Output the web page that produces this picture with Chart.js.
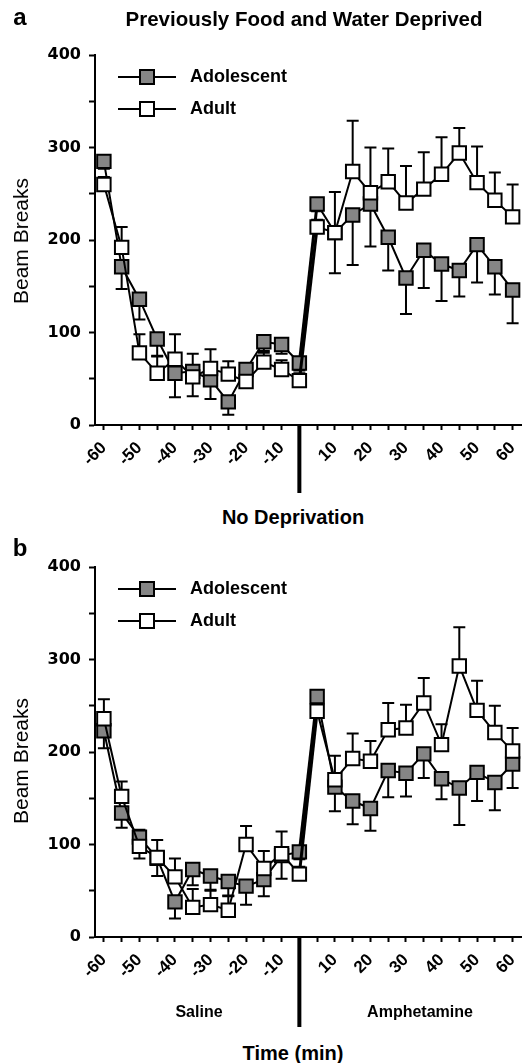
<!DOCTYPE html>
<html>
<head>
<meta charset="utf-8">
<script src="https://cdn.jsdelivr.net/npm/chart.js@4.4.1/dist/chart.umd.min.js"></script>
<style>
  body { margin: 0; background: #fff; width: 523px; height: 1063px; overflow: hidden; position: relative; color: #000; font-family: "Liberation Sans", Arial, sans-serif; }
  .panel { position: absolute; left: 0; }
  .txt { position: absolute; white-space: nowrap; transform: translate(-50%, -50%); }
  .bold { font-weight: bold; }
  .vert { transform: translate(-50%, -50%) rotate(-90deg); }
</style>
</head>
<body>

<div class="panel" style="top:0;"><canvas id="chartA" width="533" height="500"></canvas></div>
<div class="txt bold" style="left:20px;top:17px;font-size:24px;">a</div>
<div class="txt bold" style="left:304px;top:19px;font-size:20.5px;">Previously Food and Water Deprived</div>
<div class="txt vert" style="left:21px;top:241px;font-size:21px;">Beam Breaks</div>
<div class="txt bold" style="left:293px;top:517px;font-size:20px;">No Deprivation</div>

<div class="panel" style="top:540px;"><canvas id="chartB" width="533" height="500"></canvas></div>
<div class="txt bold" style="left:20px;top:548px;font-size:24px;">b</div>
<div class="txt vert" style="left:21px;top:761px;font-size:21px;">Beam Breaks</div>
<div class="txt bold" style="left:199px;top:1012px;font-size:16px;">Saline</div>
<div class="txt bold" style="left:420px;top:1012px;font-size:16px;">Amphetamine</div>
<div class="txt bold" style="left:293px;top:1053px;font-size:20px;">Time (min)</div>

<script>
// time bins (min), -5 and 5 sit either side of the treatment switch
const timeLabels = ['-60','-55','-50','-45','-40','-35','-30','-25','-20','-15','-10','-5',
                    '5','10','15','20','25','30','35','40','45','50','55','60'];

// panel a - previously food and water deprived
const adolescentA = [285, 171, 136, 93, 56, 58, 49, 25, 60, 90, 87, 67,
                     239, 208, 227, 239, 203, 159, 189, 174, 167, 195, 171, 146];
const adultA      = [260, 192, 78, 56, 71, 52, 61, 55, 47, 68, 60, 48,
                     214, 208, 274, 251, 263, 240, 255, 271, 294, 262, 243, 225];
const adolescentErrA = [8, 24, 22, 18, 26, 27, 21, 14, 6, 10, 10, 8,
                        8, 44, 54, 46, 36, 39, 41, 40, 28, 41, 30, 36];
const adultErrA      = [8, 22, 20, 18, 27, 25, 21, 14, 6, 10, 10, 8,
                        8, 44, 55, 49, 36, 40, 40, 40, 27, 39, 30, 35];

// panel b - no deprivation
const adolescentB = [223, 134, 108, 85, 38, 73, 66, 60, 55, 62, 88, 92,
                     260, 162, 147, 139, 180, 177, 198, 171, 161, 178, 167, 187];
const adultB      = [236, 152, 98, 86, 65, 32, 35, 29, 100, 74, 90, 68,
                     244, 170, 193, 190, 224, 226, 253, 208, 293, 245, 221, 201];
const adolescentErrB = [19, 16, 23, 19, 18, 17, 15, 15, 20, 18, 25, 8,
                        8, 26, 25, 24, 29, 25, 26, 22, 40, 31, 30, 26];
const adultErrB      = [21, 16, 18, 19, 20, 20, 15, 15, 20, 19, 24, 8,
                        8, 26, 27, 22, 29, 25, 27, 22, 42, 32, 29, 25];

const yTicks = [0, 100, 200, 300, 400];
const seriesNames = ['Adolescent', 'Adult'];
const switchIndex = 11; // last saline bin, divider drawn here

// error bars (adult up, adolescent down like the figure)
const errorBars = {
    id: 'errorBars',
    beforeDatasetsDraw(chart) {
        const {ctx, scales: {x, y}} = chart;
        ctx.save();
        ctx.strokeStyle = '#000';
        ctx.lineWidth = 2;
        chart.data.datasets.forEach(ds => {
            ds.errors.forEach((e, i) => {
                const px = x.getPixelForValue(i);
                const y0 = y.getPixelForValue(ds.data[i]);
                const y1 = y.getPixelForValue(ds.data[i] + ds.errDir * e);
                ctx.beginPath();
                ctx.moveTo(px, y0);
                ctx.lineTo(px, y1);
                ctx.moveTo(px - 6, y1);
                ctx.lineTo(px + 6, y1);
                ctx.stroke();
            });
        });
        ctx.restore();
    }
};

// thick vertical line under the axis at the switch point
const divider = {
    id: 'divider',
    afterDraw(chart, args, opts) {
        const {ctx, chartArea, scales: {x}} = chart;
        const px = x.getPixelForValue(switchIndex);
        ctx.save();
        ctx.strokeStyle = '#000';
        ctx.lineWidth = 4;
        ctx.beginPath();
        ctx.moveTo(px, chartArea.bottom);
        ctx.lineTo(px, opts.bottom);
        ctx.stroke();
        ctx.restore();
    }
};

// legend inside the plot: line - square - line, then the name
const boxLegend = {
    id: 'boxLegend',
    afterDraw(chart) {
        const {ctx, chartArea} = chart;
        const rows = [22, 54];
        ctx.save();
        chart.data.datasets.forEach((ds, i) => {
            const yy = chartArea.top + rows[i];
            const x0 = chartArea.left + 23;
            ctx.strokeStyle = '#000';
            ctx.lineWidth = 2;
            ctx.beginPath();
            ctx.moveTo(x0, yy);
            ctx.lineTo(x0 + 58, yy);
            ctx.stroke();
            ctx.fillStyle = ds.pointBackgroundColor;
            ctx.fillRect(x0 + 22, yy - 7, 14, 14);
            ctx.strokeRect(x0 + 22, yy - 7, 14, 14);
            ctx.fillStyle = '#000';
            ctx.font = 'bold 18px "Liberation Sans"';
            ctx.textBaseline = 'middle';
            ctx.fillText(ds.label, x0 + 72, yy);
        });
        ctx.restore();
    }
};

const makeDataset = (name, values, errs, dir, fill, order) => ({
    label: name,
    data: values,
    errors: errs,
    errDir: dir,
    order: order,
    borderColor: '#000',
    borderWidth: 2,
    pointStyle: 'rect',
    pointRadius: 9.5,
    pointBorderWidth: 2,
    pointBorderColor: '#000',
    pointBackgroundColor: fill,
    tension: 0,
    segment: {
        borderWidth: c => c.p0DataIndex === switchIndex ? 3 : 2
    }
});

const buildChart = (id, adol, adult, adolErr, adultErr, topPad, xHeight, divBottom) => {
    const ctx = document.getElementById(id);
    return new Chart(ctx, {
        type: 'line',
        data: {
            labels: timeLabels,
            datasets: [
                makeDataset(seriesNames[0], adol, adolErr, -1, '#858585', 1),
                makeDataset(seriesNames[1], adult, adultErr, 1, '#ffffff', 0)
            ]
        },
        options: {
            responsive: false,
            animation: false,
            layout: { padding: { top: topPad, left: 0, right: 0, bottom: 0 } },
            plugins: {
                legend: { display: false },
                tooltip: { enabled: false },
                divider: { bottom: divBottom }
            },
            scales: {
                x: {
                    type: 'category',
                    offset: true,
                    grid: {
                        offset: false,
                        drawOnChartArea: false,
                        drawTicks: true,
                        tickLength: 5,
                        tickWidth: 2,
                        color: '#000',
                        tickColor: c => c.index === switchIndex ? 'rgba(0,0,0,0)' : '#000'
                    },
                    border: { display: true, color: '#000', width: 2 },
                    ticks: {
                        autoSkip: false,
                        minRotation: 45,
                        maxRotation: 45,
                        padding: 8,
                        color: '#000',
                        font: { family: 'Liberation Sans', size: 17, weight: 'bold' },
                        callback: function (v) {
                            const l = this.getLabelForValue(v);
                            return Math.abs(Number(l)) % 10 === 0 ? l : '';
                        }
                    },
                    afterFit: s => { s.height = xHeight; s.paddingLeft = 0; s.paddingRight = 0; }
                },
                y: {
                    min: 0,
                    max: 400,
                    grid: {
                        drawOnChartArea: false,
                        drawTicks: true,
                        tickLength: 6,
                        tickWidth: 2,
                        color: '#000'
                    },
                    border: { display: true, color: '#000', width: 2 },
                    ticks: {
                        stepSize: 50,
                        padding: 8,
                        color: '#000',
                        font: { family: 'DejaVu Sans', size: 16, weight: 'bold' },
                        callback: v => yTicks.includes(v) ? v : ''
                    },
                    afterFit: s => { s.width = 95; }
                }
            }
        },
        plugins: [errorBars, divider, boxLegend]
    });
};

window.addEventListener('load', () => {
    buildChart('chartA', adolescentA, adultA, adolescentErrA, adultErrA, 55, 75, 493);
    buildChart('chartB', adolescentB, adultB, adolescentErrB, adultErrB, 27, 103, 487);
});
</script>
</body>
</html>
